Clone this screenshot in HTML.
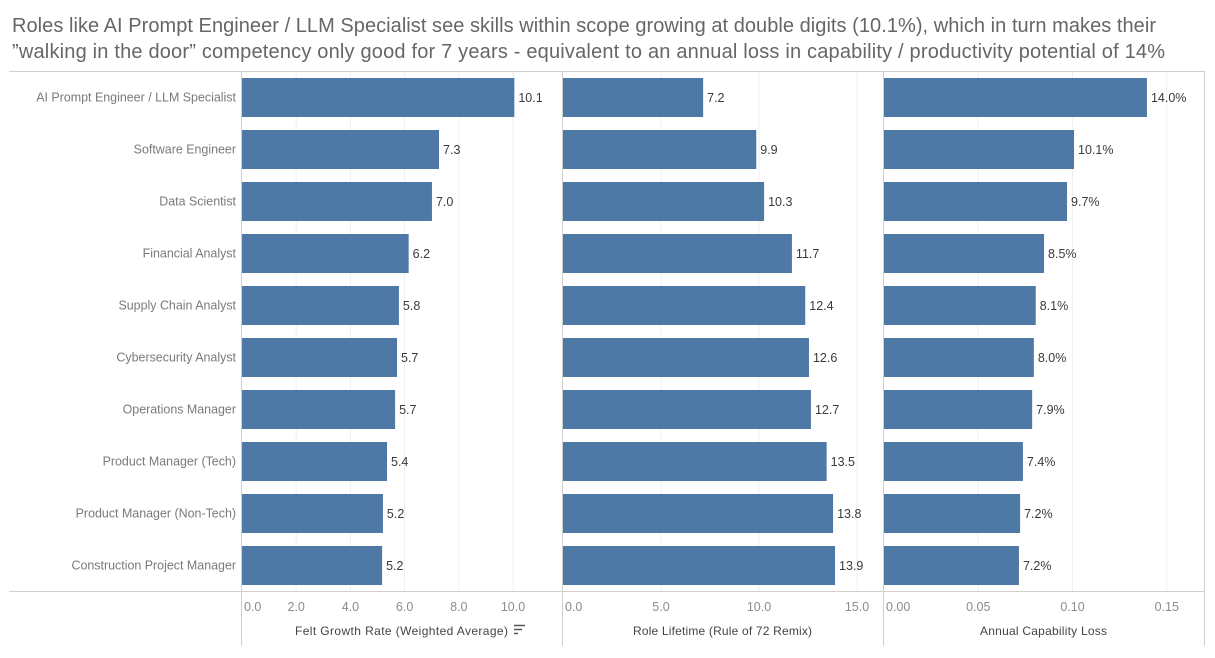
<!DOCTYPE html>
<html lang="en">
<head>
<meta charset="utf-8">
<title>Role skill growth chart</title>
<style>
html,body{margin:0;padding:0;background:#fff;width:1215px;height:658px;overflow:hidden}
svg{display:block;font-family:"Liberation Sans",sans-serif}
</style>
</head>
<body>
<svg id="chart" width="1215" height="658" viewBox="0 0 1215 658" xmlns="http://www.w3.org/2000/svg">
  <text x="12" y="32" font-size="20" fill="#666666" textLength="1144" lengthAdjust="spacing">Roles like AI Prompt Engineer / LLM Specialist see skills within scope growing at double digits (10.1%), which in turn makes their</text>
  <text x="12" y="58" font-size="20" fill="#666666" textLength="1153" lengthAdjust="spacing">”walking in the door” competency only good for 7 years - equivalent to an annual loss in capability / productivity potential of 14%</text>
  <g id="grid"></g>
  <g id="marks"></g>
  <g id="frame"></g>
  <g id="labels"></g>
  <g stroke="#555" stroke-width="1.5">
    <line x1="514" y1="625.5" x2="525" y2="625.5"/>
    <line x1="514" y1="629.5" x2="522" y2="629.5"/>
    <line x1="514" y1="633.5" x2="518" y2="633.5"/>
  </g>
</svg>
<script>
const categories = ["AI Prompt Engineer / LLM Specialist","Software Engineer","Data Scientist","Financial Analyst","Supply Chain Analyst","Cybersecurity Analyst","Operations Manager","Product Manager (Tech)","Product Manager (Non-Tech)","Construction Project Manager"];
const feltGrowth = [10.05,7.27,7.01,6.15,5.79,5.72,5.65,5.351,5.2,5.17];
const roleLifetime = [7.15,9.86,10.26,11.68,12.36,12.55,12.65,13.451,13.78,13.88];
const capabilityLoss = [0.1395,0.1008,0.0971,0.0849,0.0805,0.0795,0.0786,0.0737,0.0722,0.0716];
const feltTicks = [0,2,4,6,8,10];
const lifetimeTicks = [0,5,10,15];
const lossTicks = [0,0.05,0.1,0.15];

const NS = 'http://www.w3.org/2000/svg';
const rowTop = 78, rowStep = 52, barHeight = 39;
const frameTop = 71.5, frameBottom = 591.5, frameEnd = 646;
const gridG = document.getElementById('grid');
const marksG = document.getElementById('marks');
const frameG = document.getElementById('frame');
const labelsG = document.getElementById('labels');

function make(parent, tag, attrs, content) {
  const el = document.createElementNS(NS, tag);
  for (const k in attrs) el.setAttribute(k, attrs[k]);
  if (content !== undefined) el.textContent = content;
  parent.appendChild(el);
  return el;
}
function rowY(i) { return rowTop + i * rowStep; }

function drawPanel(p) {
  const x = v => p.x0 + v * p.scale;
  p.ticks.forEach((t, i) => {
    if (i > 0) {
      const g = make(gridG, 'line', {x1: x(t), x2: x(t), y1: frameTop, y2: frameBottom, stroke: '#efefef', 'stroke-width': 1});
      
      
    }
    const lbl = make(labelsG, 'text', {
      x: i === 0 ? p.x0 + 2 : x(t),
      y: 611,
      'font-size': 12.5,
      fill: '#8c8c8c',
      'text-anchor': i === 0 ? 'start' : 'middle'
    }, t.toFixed(p.tickDigits));
    
    
  });
  p.values.forEach((v, i) => {
    const bar = make(marksG, 'rect', {x: p.x0, y: rowY(i), width: v * p.scale, height: barHeight, fill: '#4e79a7'});
    
    
    const val = make(labelsG, 'text', {
      x: x(v) + 4,
      y: rowY(i) + barHeight / 2 + 4.5,
      'font-size': 12.5,
      fill: '#3a3a3a'
    }, p.format(v));
    
    
  });
  const title = make(labelsG, 'text', {
    x: p.titleX, y: 635, 'font-size': 12, fill: '#444444',
    textLength: p.titleLen, lengthAdjust: 'spacing'
  }, p.title);
  
  
}

drawPanel({x0: 242, scale: 27.1, values: feltGrowth, ticks: feltTicks, tickDigits: 1,
  format: v => v.toFixed(1), title: 'Felt Growth Rate (Weighted Average)', titleX: 295, titleLen: 213});
drawPanel({x0: 563, scale: 19.6, values: roleLifetime, ticks: lifetimeTicks, tickDigits: 1,
  format: v => v.toFixed(1), title: 'Role Lifetime (Rule of 72 Remix)', titleX: 633, titleLen: 179});
drawPanel({x0: 884, scale: 1885, values: capabilityLoss, ticks: lossTicks, tickDigits: 2,
  format: v => (v * 100).toFixed(1) + '%', title: 'Annual Capability Loss', titleX: 980, titleLen: 127});

categories.forEach((c, i) => {
  const t = make(labelsG, 'text', {
    x: 236, y: rowY(i) + barHeight / 2 + 4.2,
    'font-size': 12.45, fill: '#7a7a7a', 'text-anchor': 'end'
  }, c);
  
  
});

[frameTop, frameBottom].forEach(y => {
  const l = make(frameG, 'line', {x1: 9, x2: 1204.5, y1: y, y2: y, stroke: '#cfcfcf', 'stroke-width': 1});
  
  
});
[241.5, 562.5, 883.5, 1204.5].forEach(x => {
  const l = make(frameG, 'line', {x1: x, x2: x, y1: frameTop, y2: frameEnd, stroke: '#cfcfcf', 'stroke-width': 1});
  
  
});
</script>
</body>
</html>
